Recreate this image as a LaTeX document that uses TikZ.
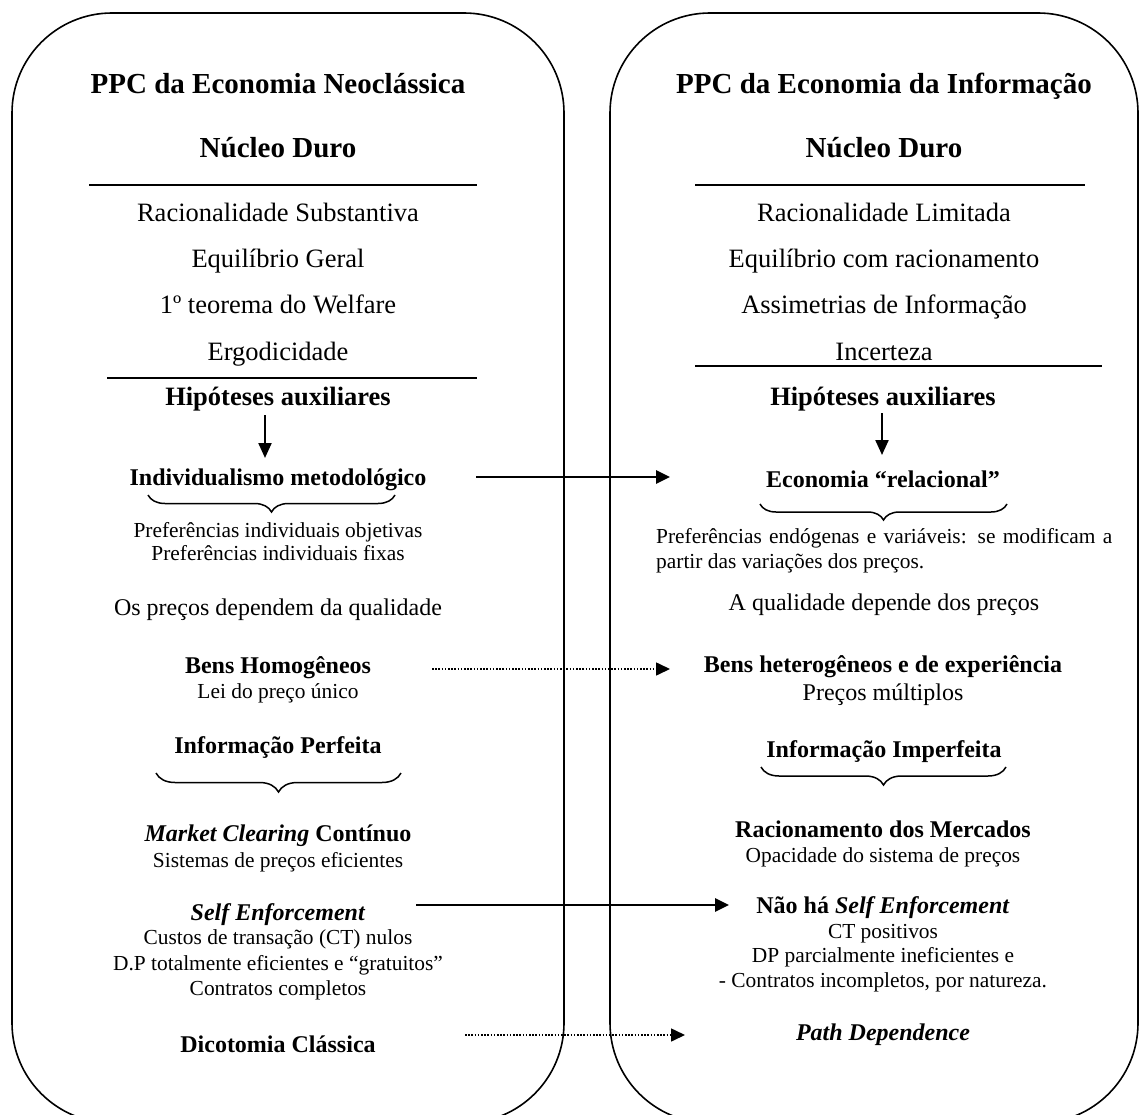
\documentclass[tikz,border=0pt]{standalone}
\usepackage{fontspec}
\setmainfont{Liberation Serif}
\usetikzlibrary{arrows.meta,decorations.pathreplacing}
\begin{document}
\begin{tikzpicture}[x=1pt,y=-1pt,
  txt/.style={inner sep=0pt,anchor=base},
  ttl/.style={txt,font=\fontsize{29}{34}\selectfont\bfseries},
  core/.style={txt,font=\fontsize{26.5}{31}\selectfont},
  hyp/.style={txt,font=\fontsize{26.5}{31}\selectfont\bfseries},
  head/.style={txt,font=\fontsize{24}{28}\selectfont\bfseries},
  mid/.style={txt,font=\fontsize{24}{28}\selectfont},
  body/.style={txt,font=\fontsize{21.4}{25}\selectfont},
  panel/.style={draw,line width=1.6pt,rounded corners=100pt},
  rulel/.style={line width=2pt},
  solidarrow/.style={line width=2.8pt,-{Triangle[length=14pt,width=13pt]}},
  downarrow/.style={line width=2.2pt,-{Triangle[length=15pt,width=13pt]}},
  dotarrow/.style={line width=1.6pt,dash pattern=on 1.6pt off 1.6pt,-{Triangle[length=14pt,width=13pt]}},
  brc/.style={decorate,decoration={brace,mirror,amplitude=#1},line width=1.5pt}
]
\useasboundingbox (0,0) rectangle (1140,1115);
\clip (0,0) rectangle (1140,1115);

% panels
\draw[panel] (12,13) rectangle (564,1123);
\draw[panel] (610,13) rectangle (1138,1123);

% ---------- left column ----------
\node[ttl] (lt) at (278,94) {PPC da Economia Neoclássica};
\node[ttl] (lnd) at (278,158) {Núcleo Duro};
\draw[rulel] (89,185) -- (477,185);
\node[core] (l1) at (278,222) {Racionalidade Substantiva};
\node[core] (l2) at (278,268) {Equilíbrio Geral};
\node[core] (l3) at (278,313) {1º teorema do Welfare};
\node[core] (l4) at (278,360) {Ergodicidade};
\draw[rulel] (107,378) -- (477,378);
\node[hyp] (lh) at (278,405) {Hipóteses auxiliares};
\node[head] (li) at (278,485) {Individualismo metodológico};
\draw[brc=17pt] (148,495) -- (395,495);
\node[body] (lp1) at (278,537) {Preferências individuais objetivas};
\node[body] (lp2) at (278,560) {Preferências individuais fixas};
\node[mid] (lq) at (278,615) {Os preços dependem da qualidade};
\node[head] (lb) at (278,673) {Bens Homogêneos};
\node[body] (lb2) at (278,698) {Lei do preço único};
\node[head] (lip) at (278,753) {Informação Perfeita};
\draw[brc=19pt] (156,773) -- (401,773);
\node[head] (lm) at (278,841) {\textit{Market Clearing} Contínuo};
\node[body] (lm2) at (278,867) {Sistemas de preços eficientes};
\node[head] (ls) at (278,920) {\textit{Self Enforcement}};
\node[body] (ls1) at (278,944) {Custos de transação (CT) nulos};
\node[body] (ls2) at (278,970) {D.P totalmente eficientes e “gratuitos”};
\node[body] (ls3) at (278,995) {Contratos completos};
\node[head] (ld) at (278,1052) {Dicotomia Clássica};

% ---------- right column ----------
\node[ttl] (rt) at (884,94) {PPC da Economia da Informação};
\node[ttl] (rnd) at (884,158) {Núcleo Duro};
\draw[rulel] (695,185) -- (1085,185);
\node[core] (r1) at (884,222) {Racionalidade Limitada};
\node[core] (r2) at (884,268) {Equilíbrio com racionamento};
\node[core] (r3) at (884,313) {Assimetrias de Informação};
\node[core] (r4) at (884,360) {Incerteza};
\draw[rulel] (695,366) -- (1102,366);
\node[hyp] (rh) at (883,405) {Hipóteses auxiliares};
\node[head] (re) at (883,487) {Economia “relacional”};
\draw[brc=16pt] (760,504) -- (1007,504);
\node[body,anchor=base west] (rp1) at (656,543) {\makebox[456pt][s]{Preferências endógenas e variáveis: se modificam a}};
\node[body,anchor=base west] (rp2) at (656,568) {partir das variações dos preços.};
\node[mid] (rq) at (884,610) {A qualidade depende dos preços};
\node[head] (rb) at (883,672) {Bens heterogêneos e de experiência};
\node[mid] (rb2) at (883,700) {Preços múltiplos};
\node[head] (rip) at (884,757) {Informação Imperfeita};
\draw[brc=18pt] (761,767) -- (1006,767);
\node[head] (rr) at (883,837) {Racionamento dos Mercados};
\node[body] (rr2) at (883,862) {Opacidade do sistema de preços};
\node[head] (rs) at (883,913) {Não há \textit{Self Enforcement}};
\node[body] (rs1) at (883,938) {CT positivos};
\node[body] (rs2) at (883,962) {DP parcialmente ineficientes e};
\node[body] (rs3) at (883,987) {- Contratos incompletos, por natureza.};
\node[head] (rpd) at (883,1040) {\textit{Path Dependence}};

% ---------- connectors ----------
\coordinate (dl1) at (265,415); \coordinate (dl2) at (265,458);
\coordinate (dr1) at (882,413); \coordinate (dr2) at (882,455);
\draw[downarrow] (dl1) -- (dl2);
\draw[downarrow] (dr1) -- (dr2);

\coordinate (a1s) at (476,477); \coordinate (a1e) at (670,477);
\coordinate (a2s) at (432,669); \coordinate (a2e) at (670,669);
\coordinate (a3s) at (416,905); \coordinate (a3e) at (729,905);
\coordinate (a4s) at (465,1035); \coordinate (a4e) at (685,1035);
\draw[solidarrow] (a1s) -- (a1e);
\draw[dotarrow] (a2s) -- (a2e);
\draw[solidarrow] (a3s) -- (a3e);
\draw[dotarrow] (a4s) -- (a4e);
\end{tikzpicture}
\end{document}
